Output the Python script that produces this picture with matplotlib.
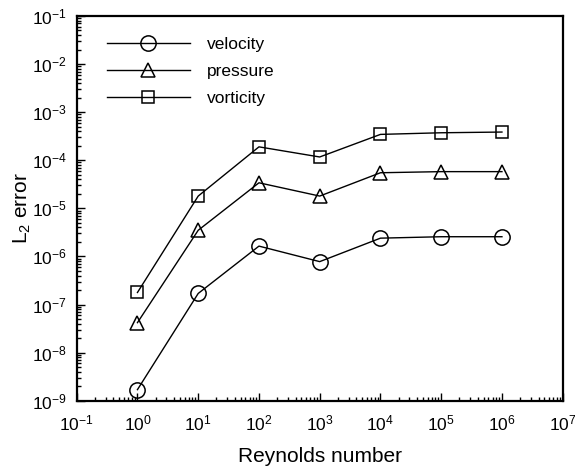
import matplotlib
matplotlib.use('Agg')
import matplotlib.pyplot as plt
from matplotlib.ticker import LogLocator, LogFormatterSciNotation, NullFormatter

plt.rcParams['font.family'] = 'Liberation Sans'
plt.rcParams['mathtext.fontset'] = 'custom'
plt.rcParams['mathtext.rm'] = 'Liberation Sans'
plt.rcParams['mathtext.it'] = 'Liberation Sans:italic'

# data
reynolds = [1e0, 1e1, 1e2, 1e3, 1e4, 1e5, 1e6]
velocity = [1.7e-9, 1.7e-7, 1.64e-6, 7.8e-7, 2.4e-6, 2.57e-6, 2.57e-6]
pressure = [4.2e-8, 3.5e-6, 3.4e-5, 1.8e-5, 5.5e-5, 5.8e-5, 5.8e-5]
vorticity = [1.78e-7, 1.8e-5, 1.9e-4, 1.17e-4, 3.45e-4, 3.73e-4, 3.86e-4]

fig = plt.figure(figsize=(5.75, 4.66), dpi=100)
ax = fig.add_axes([0.1334, 0.1401, 0.8452, 0.8256])

style = dict(color='black', lw=1.0, mfc='none', mec='black', mew=1.1)
ax.plot(reynolds, velocity, marker='o', ms=11, label='velocity', **style)
ax.plot(reynolds, pressure, marker='^', ms=10, label='pressure', **style)
ax.plot(reynolds, vorticity, marker='s', ms=8, label='vorticity', **style)

ax.set_xscale('log')
ax.set_yscale('log')
ax.set_xlim(1e-1, 1e7)
ax.set_ylim(1e-9, 1e-1)

for axis in (ax.xaxis, ax.yaxis):
    axis.set_major_locator(LogLocator(base=10, numticks=20))
    axis.set_minor_locator(LogLocator(base=10, subs=range(2, 10), numticks=20))
    axis.set_major_formatter(LogFormatterSciNotation())
    axis.set_minor_formatter(NullFormatter())

ax.tick_params(which='both', direction='in', top=False, right=False,
               labelsize=12.5, width=1.0)
ax.tick_params(which='major', length=6)
ax.tick_params(axis='x', which='major', pad=9)
ax.tick_params(axis='y', which='major', pad=7)
ax.tick_params(which='minor', length=3)
for sp in ax.spines.values():
    sp.set_linewidth(1.6)

ax.set_xlabel('Reynolds number', fontsize=15, labelpad=10)
ax.set_ylabel('L$_2$ error', fontsize=15, labelpad=-1)

ax.legend(loc='upper left', bbox_to_anchor=(106.7 / 575, 1 - 37 / 466),
          bbox_transform=fig.transFigure, frameon=False,
          fontsize=12.5, handlelength=4.8, handletextpad=0.95,
          labelspacing=0.68, borderaxespad=0, borderpad=0)

fig.savefig('out.png', dpi=100)
